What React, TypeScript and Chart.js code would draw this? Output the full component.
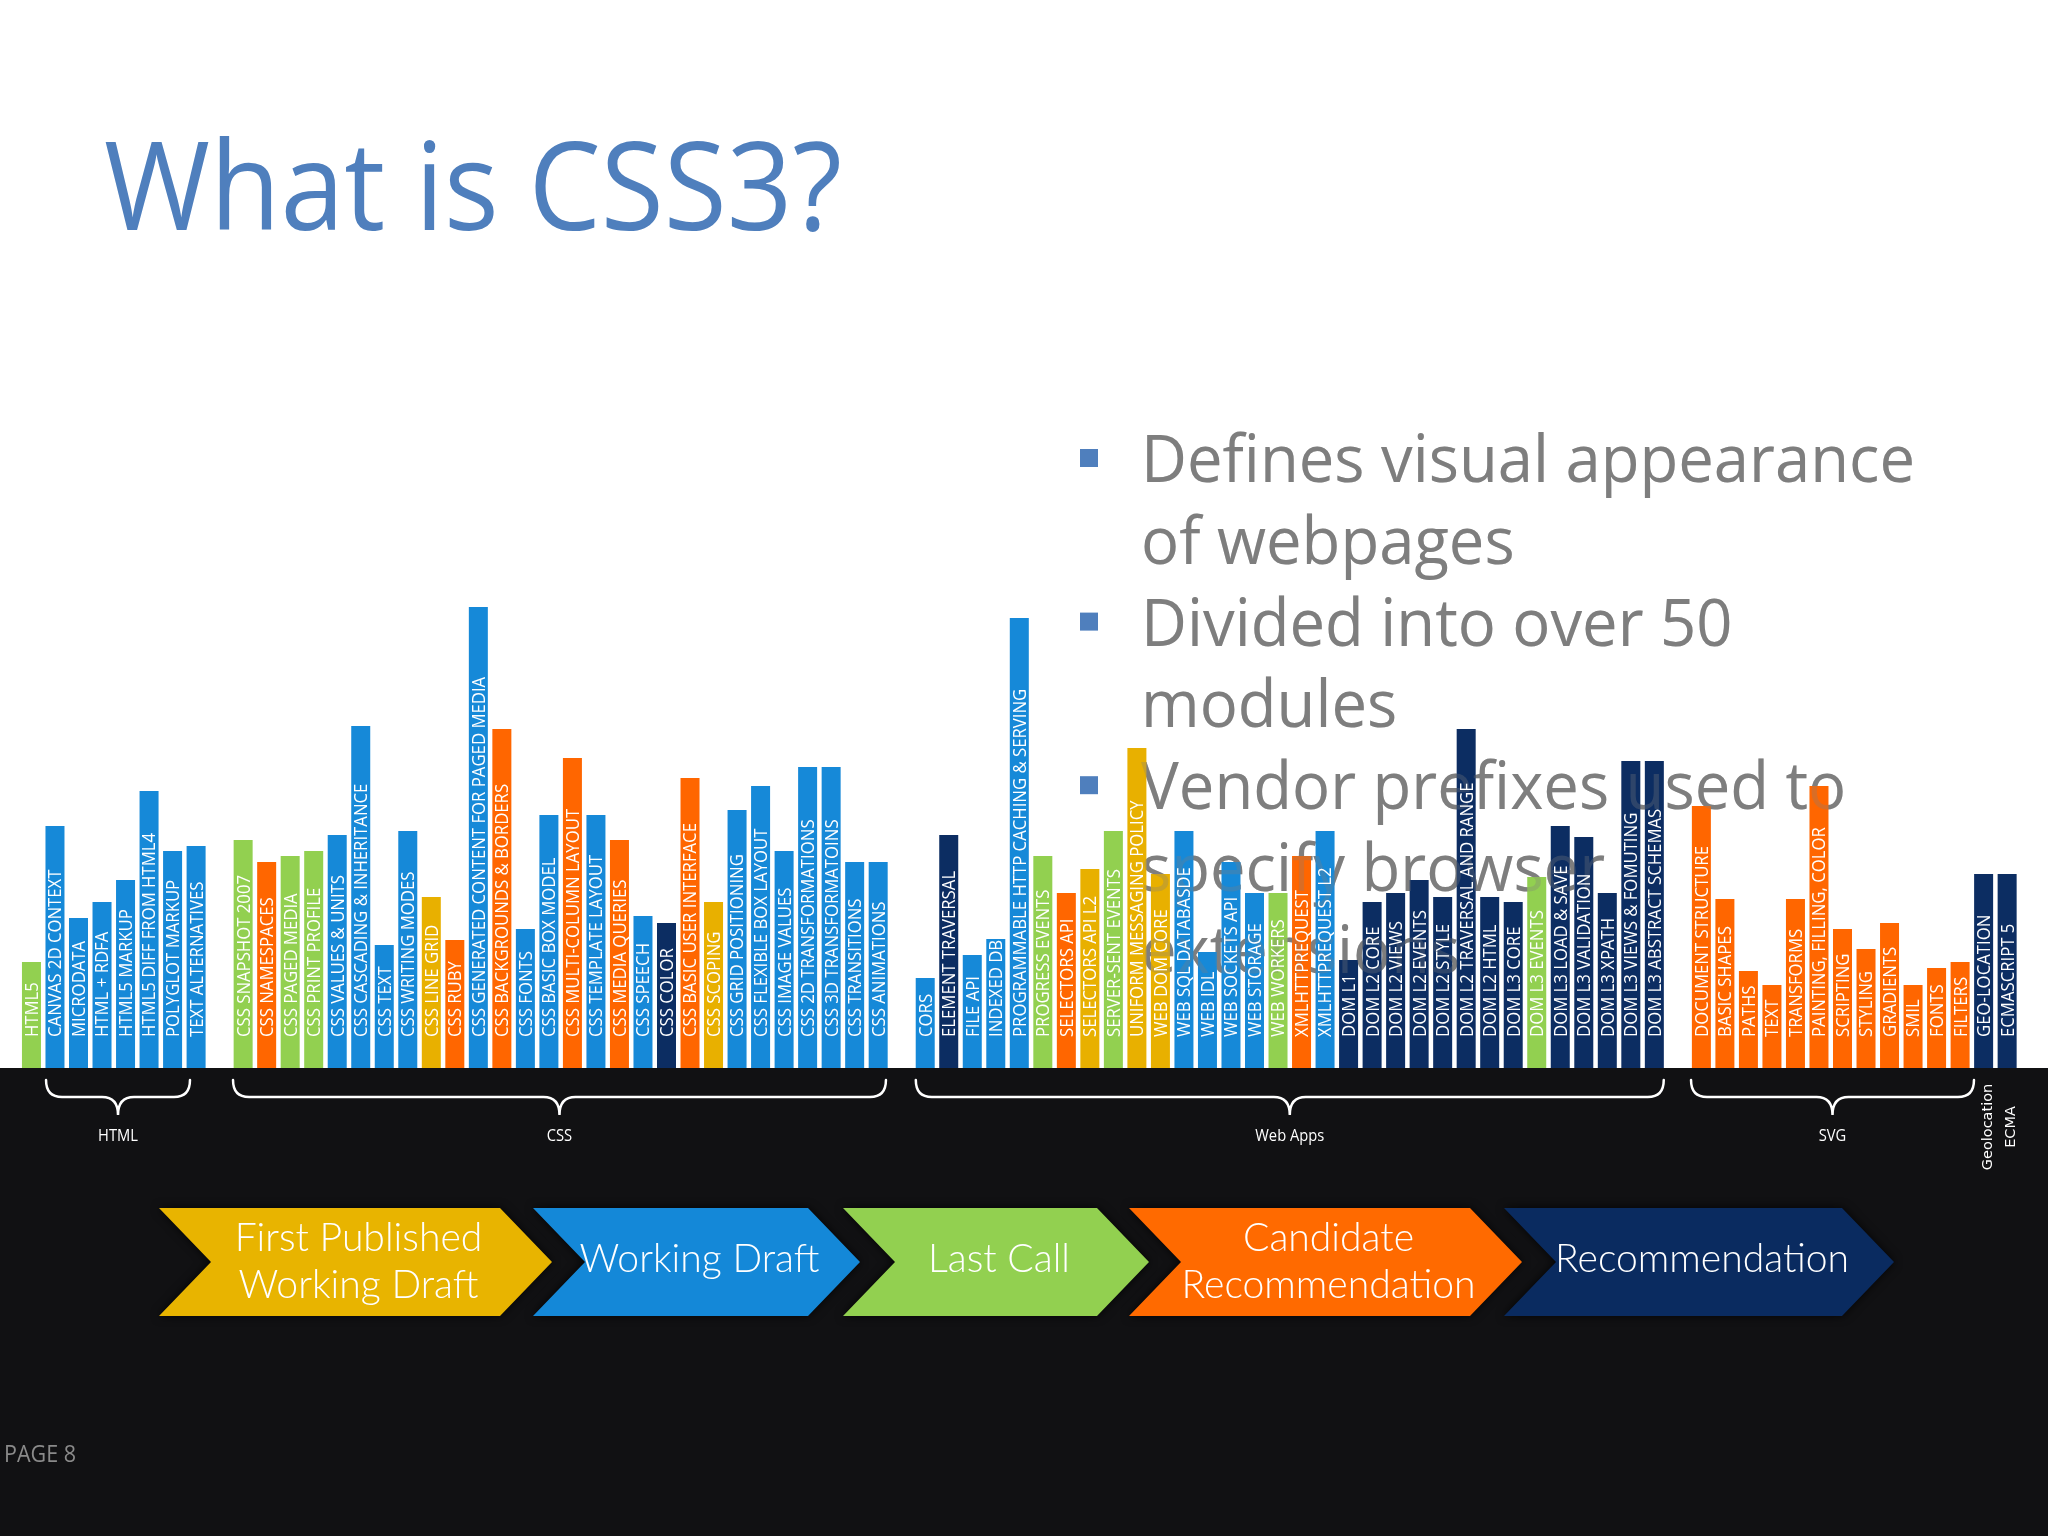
import { useEffect, useRef } from 'react';
import { Chart, registerables } from 'chart.js';

Chart.register(...registerables);

// ---------- DATA ----------
const MODULE_NAMES: string[] = [
  'HTML5', 'CANVAS 2D CONTEXT', 'MICRODATA', 'HTML + RDFA', 'HTML5 MARKUP', 'HTML5 DIFF FROM HTML4', 'POLYGLOT MARKUP', 'TEXT ALTERNATIVES',
  ' ',
  'CSS SNAPSHOT 2007', 'CSS NAMESPACES', 'CSS PAGED MEDIA', 'CSS PRINT PROFILE', 'CSS VALUES & UNITS', 'CSS CASCADING & INHERITANCE',
  'CSS TEXT', 'CSS WRITING MODES', 'CSS LINE GRID', 'CSS RUBY', 'CSS GENERATED CONTENT FOR PAGED MEDIA', 'CSS BACKGROUNDS & BORDERS',
  'CSS FONTS', 'CSS BASIC BOX MODEL', 'CSS MULTI-COLUMN LAYOUT', 'CSS TEMPLATE LAYOUT', 'CSS MEDIA QUERIES', 'CSS SPEECH', 'CSS COLOR',
  'CSS BASIC USER INTERFACE', 'CSS SCOPING', 'CSS GRID POSITIONING', 'CSS FLEXIBLE BOX LAYOUT', 'CSS IMAGE VALUES',
  'CSS 2D TRANSFORMATIONS', 'CSS 3D TRANSFORMATOINS', 'CSS TRANSITIONS', 'CSS ANIMATIONS',
  '  ',
  'CORS', 'ELEMENT TRAVERSAL', 'FILE API', 'INDEXED DB', 'PROGRAMMABLE HTTP CACHING & SERVING', 'PROGRESS EVENTS', 'SELECTORS API',
  'SELECTORS API L2', 'SERVER-SENT EVENTS', 'UNIFORM MESSAGING POLICY', 'WEB DOM CORE', 'WEB SQL DATABASDE', 'WEB IDL', 'WEB SOCKETS API',
  'WEB STORAGE', 'WEB WORKERS', 'XMLHTTPREQUEST', 'XMLHTTPREQUEST L2', 'DOM L1', 'DOM L2 CORE', 'DOM L2 VIEWS', 'DOM L2 EVENTS',
  'DOM L2 STYLE', 'DOM L2 TRAVERSAL AND RANGE', 'DOM L2 HTML', 'DOM L3 CORE', 'DOM L3 EVENTS', 'DOM L3 LOAD & SAVE', 'DOM L3 VALIDATION',
  'DOM L3 XPATH', 'DOM L3 VIEWS & FOMUTING', 'DOM L3 ABSTRACT SCHEMAS',
  '   ',
  'DOCUMENT STRUCTURE', 'BASIC SHAPES', 'PATHS', 'TEXT', 'TRANSFORMS', 'PAINTING, FILLING, COLOR', 'SCRIPTING', 'STYLING', 'GRADIENTS',
  'SMIL', 'FONTS', 'FILTERS',
  'GEO-LOCATION', 'ECMASCRIPT 5',
];

const MODULE_VALUES: (number | null)[] = [
  106, 242, 150, 166, 188, 277, 217, 222,
  null,
  228, 206, 212, 217, 233, 342,
  123, 237, 171, 128, 461, 339,
  139, 253, 310, 253, 228, 152, 145,
  290, 166, 258, 282, 217,
  301, 301, 206, 206,
  null,
  90, 233, 113, 129, 450, 212, 175,
  199, 237, 320, 194, 237, 116, 206,
  175, 175, 212, 237, 108, 166, 175, 188,
  171, 339, 171, 166, 191, 242, 231,
  175, 307, 307,
  null,
  262, 169, 97, 83, 169, 282, 139, 119, 145,
  83, 100, 106,
  194, 194,
];

// FPWD = First Published Working Draft, WD = Working Draft, LC = Last Call,
// CR = Candidate Recommendation, REC = Recommendation
const MODULE_STATUS: string[] = [
  'LC', 'WD', 'WD', 'WD', 'WD', 'WD', 'WD', 'WD',
  '',
  'LC', 'CR', 'LC', 'LC', 'WD', 'WD',
  'WD', 'WD', 'FPWD', 'CR', 'WD', 'CR',
  'WD', 'WD', 'CR', 'WD', 'CR', 'WD', 'REC',
  'CR', 'FPWD', 'WD', 'WD', 'WD',
  'WD', 'WD', 'WD', 'WD',
  '',
  'WD', 'REC', 'WD', 'WD', 'WD', 'LC', 'CR',
  'FPWD', 'LC', 'FPWD', 'FPWD', 'WD', 'WD', 'WD',
  'WD', 'LC', 'CR', 'WD', 'REC', 'REC', 'REC', 'REC',
  'REC', 'REC', 'REC', 'REC', 'LC', 'REC', 'REC',
  'REC', 'REC', 'REC',
  '',
  'CR', 'CR', 'CR', 'CR', 'CR', 'CR', 'CR', 'CR', 'CR',
  'CR', 'CR', 'CR',
  'REC', 'REC',
];

const STAGE_CODES: string[] = ['FPWD', 'WD', 'LC', 'CR', 'REC'];
const STAGE_LINES: string[][] = [
  ['First Published', 'Working Draft'],
  ['Working Draft'],
  ['Last Call'],
  ['Candidate', 'Recommendation'],
  ['Recommendation'],
];

// groups, in category-index units
const GROUP_NAMES: string[] = ['HTML', 'CSS', 'Web Apps', 'SVG'];
const GROUP_START: number[] = [0.62, 8.57, 37.6, 70.56];
const GROUP_END: number[] = [6.74, 36.33, 69.4, 82.59];
const SINGLE_NAMES: string[] = ['Geolocation', 'ECMA'];
const SINGLE_INDEX: number[] = [83, 84];

const TITLE = 'What is CSS3?';
const BULLETS: string[][] = [
  ['Defines visual appearance', 'of webpages'],
  ['Divided into over 50', 'modules'],
  ['Vendor prefixes used to', 'specify browser', 'extensions'],
];
const PAGE_LABEL = 'PAGE 8';

// ---------- STYLE / LAYOUT ----------
const W = 2048;
const H = 1536;
const STATUS_COLORS: Record<string, string> = {
  FPWD: '#e8b000',
  WD: '#1689d8',
  LC: '#92d050',
  CR: '#ff6600',
  REC: '#0c2d62',
  '': '#ffffff',
};
const CHEVRON_COLORS: Record<string, string> = {
  FPWD: '#e8b400',
  WD: '#1488d8',
  LC: '#92d050',
  CR: '#ff6a00',
  REC: '#0a2b60',
};
const CHEVRON_LEFT = [159, 533, 843, 1129, 1504];
const CHEVRON_BODY = [341, 275, 254, 341, 338];
const CHEVRON_TOP = 1208;
const CHEVRON_BOTTOM = 1316;
const CHEVRON_DEPTH = 52;
const BLACK = '#111113';
const SANS = '"Open Sans", "Noto Sans", sans-serif';
const LIGHT = 'Lato, "Open Sans", sans-serif';

function scaledText(ctx: CanvasRenderingContext2D, text: string, x: number, y: number, sx: number, align: CanvasTextAlign) {
  ctx.save();
  ctx.translate(x, y);
  ctx.scale(sx, 1);
  ctx.textAlign = align;
  ctx.textBaseline = 'alphabetic';
  ctx.fillText(text, 0, 0);
  ctx.restore();
}

function fitScale(ctx: CanvasRenderingContext2D, text: string, font: string, width: number) {
  ctx.font = font;
  return width / ctx.measureText(text).width;
}

function drawTitle(ctx: CanvasRenderingContext2D) {
  const font = `400 123px ${SANS}`;
  const s = fitScale(ctx, TITLE, font, 738);
  ctx.fillStyle = '#4f7fbd';
  ctx.font = font;
  scaledText(ctx, TITLE, 104, 230, s, 'left');
}

function drawBullets(ctx: CanvasRenderingContext2D, alpha: number, squares: boolean) {
  const font = `400 66px ${SANS}`;
  const s = fitScale(ctx, BULLETS[0][0], font, 774);
  ctx.save();
  ctx.globalAlpha = alpha;
  let line = 0;
  BULLETS.forEach((lines) => {
    const base0 = 482 + line * 81.8;
    if (squares) {
      ctx.fillStyle = '#4f7fbd';
      ctx.fillRect(1080, base0 - 33, 18, 18);
    }
    lines.forEach((t) => {
      const y = 482 + line * 81.8;
      ctx.fillStyle = '#7f7f7f';
      ctx.font = font;
      scaledText(ctx, t, 1141, y, s, 'left');
      line++;
    });
  });
  ctx.restore();
}

function brace(ctx: CanvasRenderingContext2D, x0: number, x1: number, top: number, mid: number, tip: number) {
  const xc = (x0 + x1) / 2;
  const r = 16;
  ctx.beginPath();
  ctx.moveTo(x0, top);
  ctx.quadraticCurveTo(x0, mid, x0 + r, mid);
  ctx.lineTo(xc - r, mid);
  ctx.quadraticCurveTo(xc, mid, xc, tip);
  ctx.quadraticCurveTo(xc, mid, xc + r, mid);
  ctx.lineTo(x1 - r, mid);
  ctx.quadraticCurveTo(x1, mid, x1, top);
  ctx.stroke();
}

const slidePlugin = {
  id: 'slide',
  beforeDraw(chart: any) {
    const ctx: CanvasRenderingContext2D = chart.ctx;
    const yBase = chart.scales.y.getPixelForValue(0);
    ctx.save();
    ctx.fillStyle = '#ffffff';
    ctx.fillRect(0, 0, W, H);
    ctx.fillStyle = BLACK;
    ctx.fillRect(0, yBase, W, H - yBase);
    ctx.restore();
    drawTitle(ctx);
    drawBullets(ctx, 1, true);
  },
  afterDatasetsDraw(chart: any) {
    const ctx: CanvasRenderingContext2D = chart.ctx;
    const xs = chart.scales.x;
    const yBase = chart.scales.y.getPixelForValue(0);
    // ghost of bullet text over bars (slide transition)
    drawBullets(ctx, 0.3, false);

    // labels inside bars
    const meta = chart.getDatasetMeta(0);
    ctx.save();
    ctx.fillStyle = '#ffffff';
    const fsize = 18;
    ctx.font = `400 ${fsize}px ${SANS}`;
    meta.data.forEach((el: any, i: number) => {
      if (MODULE_VALUES[i] == null) return;
      ctx.save();
      ctx.translate(el.x, el.base - 31);
      ctx.rotate(-Math.PI / 2);
      ctx.scale(0.93, 1);
      ctx.textAlign = 'left';
      ctx.textBaseline = 'alphabetic';
      ctx.fillText(MODULE_NAMES[i], 0, fsize * 0.357);
      ctx.restore();
    });
    ctx.restore();

    // braces and group labels
    ctx.save();
    ctx.strokeStyle = '#ffffff';
    ctx.lineWidth = 2.5;
    ctx.lineCap = 'round';
    ctx.fillStyle = '#ffffff';
    GROUP_NAMES.forEach((name, g) => {
      const x0 = xs.getPixelForValue(GROUP_START[g]);
      const x1 = xs.getPixelForValue(GROUP_END[g]);
      brace(ctx, x0, x1, yBase + 12, yBase + 29, yBase + 47);
      ctx.font = `400 16px ${SANS}`;
      scaledText(ctx, name, (x0 + x1) / 2, yBase + 73, 0.92, 'center');
    });
    SINGLE_NAMES.forEach((name, k) => {
      const x = xs.getPixelForValue(SINGLE_INDEX[k]);
      ctx.save();
      ctx.translate(x + 8, yBase + 59);
      ctx.rotate(-Math.PI / 2);
      ctx.font = '400 14.5px "DejaVu Sans", sans-serif';
      ctx.textAlign = 'center';
      ctx.textBaseline = 'alphabetic';
      ctx.fillText(name, 0, 0);
      ctx.restore();
    });
    ctx.restore();

    // chevrons (status legend)
    const mid = (CHEVRON_TOP + CHEVRON_BOTTOM) / 2;
    const lfont = `300 40px ${LIGHT}`;
    const ls = fitScale(ctx, 'Recommendation', lfont, 294);
    STAGE_CODES.forEach((code, k) => {
      const L = CHEVRON_LEFT[k];
      const R = L + CHEVRON_BODY[k];
      ctx.save();
      ctx.shadowColor = 'rgba(0,0,0,0.8)';
      ctx.shadowBlur = 10;
      ctx.fillStyle = CHEVRON_COLORS[code];
      ctx.beginPath();
      ctx.moveTo(L, CHEVRON_TOP);
      ctx.lineTo(R, CHEVRON_TOP);
      ctx.lineTo(R + CHEVRON_DEPTH, mid);
      ctx.lineTo(R, CHEVRON_BOTTOM);
      ctx.lineTo(L, CHEVRON_BOTTOM);
      ctx.lineTo(L + CHEVRON_DEPTH, mid);
      ctx.closePath();
      ctx.fill();
      ctx.restore();
      const cx = (L + CHEVRON_DEPTH + R) / 2 + 3;
      const lines = STAGE_LINES[k];
      ctx.fillStyle = '#ffffff';
      ctx.font = lfont;
      if (lines.length === 1) {
        scaledText(ctx, lines[0], cx, 1272, ls, 'center');
      } else {
        scaledText(ctx, lines[0], cx, 1251, ls, 'center');
        scaledText(ctx, lines[1], cx, 1298, ls, 'center');
      }
    });

    // page number
    const pfont = `400 24px ${SANS}`;
    const ps = fitScale(ctx, PAGE_LABEL, pfont, 72);
    ctx.fillStyle = '#8a8a8a';
    ctx.font = pfont;
    scaledText(ctx, PAGE_LABEL, 4, 1462, ps, 'left');
  },
};

export default function App() {
  const ref = useRef<HTMLCanvasElement>(null);
  useEffect(() => {
    document.body.style.margin = '0';
    const canvas = ref.current;
    if (!canvas) return;
    const chart = new Chart(canvas, {
      type: 'bar',
      data: {
        labels: MODULE_NAMES,
        datasets: [
          {
            data: MODULE_VALUES,
            backgroundColor: MODULE_STATUS.map((s) => STATUS_COLORS[s]),
            borderWidth: 0,
            barPercentage: 0.808,
            categoryPercentage: 1,
          },
        ],
      },
      options: {
        responsive: false,
        animation: false,
        devicePixelRatio: 1,
        layout: { padding: { left: 19.7, right: 29.1, top: 68, bottom: H - 1068 } },
        plugins: { legend: { display: false }, tooltip: { enabled: false }, title: { display: false } },
        scales: {
          x: { display: false, grid: { display: false } },
          y: { display: false, min: 0, max: 1000, grid: { display: false } },
        },
      },
      plugins: [slidePlugin],
    } as any);
    return () => chart.destroy();
  }, []);
  return (
    <div style={{ position: 'absolute', left: 0, top: 0, width: W, height: H, overflow: 'hidden', background: '#fff' }}>
      <canvas ref={ref} width={W} height={H} style={{ width: W, height: H, display: 'block' }} />
    </div>
  );
}
